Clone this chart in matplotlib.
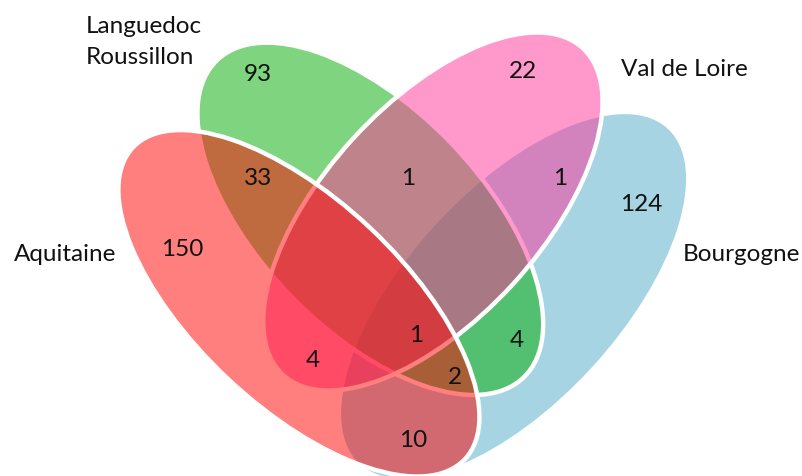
import matplotlib
matplotlib.use("Agg")
import matplotlib.pyplot as plt
from matplotlib.patches import Ellipse

# ---- data ----
set_keys = ["B", "L", "V", "A"]          # drawing order (bottom -> top)
set_names = ["Bourgogne", "Languedoc\nRoussillon", "Val de Loire", "Aquitaine"]
region_keys = ["A", "L", "V", "B", "AL", "LV", "VB", "AV", "LB", "AB", "ALB", "ALVB", "ALV", "AVB", "LVB"]
region_counts = [150, 93, 22, 124, 33, 1, 1, 4, 4, 10, 2, 1, 0, 0, 0]

# ---- layout / style ----
plt.rcParams["font.family"] = ["Lato", "DejaVu Sans"]
ellipse_geom = {  # centre, semi-major, semi-minor, angle (pixel space, y down)
    "B": ((513.6, 297.2), 229.8, 108.0, -47.4),
    "L": ((370.3, 219.8), 220.6, 110.7, 45.9),
    "V": ((432.9, 212.5), 221.7, 108.1, -47.5),
    "A": ((298.9, 304.3), 227.7, 103.7, 43.2),
}
fill = {
    "B": (166/255, 212/255, 226/255, 1.0),
    "L": (0.0, 173/255, 0.0, 0.5),
    "V": (1.0, 0.2, 0.6, 0.5),
    "A": (1.0, 0.0, 0.0, 0.5),
}
name_pos = {  # (x, baseline y, ha)
    "B": (741, 261, "center"),
    "L": (86, 33, "left"),
    "V": (684, 76, "center"),
    "A": (65, 261, "center"),
}
count_pos = {
    "A": (182, 256), "L": (258, 81), "V": (523, 78), "B": (641, 211),
    "AL": (258, 185), "LV": (408, 185), "VB": (560, 185), "AV": (313, 367),
    "LB": (517, 347), "AB": (413, 447), "ALB": (455, 384), "ALVB": (416, 342),
}

fig = plt.figure(figsize=(8.03, 4.77), dpi=100)
ax = fig.add_axes([0, 0, 1, 1])
ax.set_xlim(0, 803)
ax.set_ylim(477, 0)
ax.axis("off")

for k in set_keys:
    c, a, b, ang = ellipse_geom[k]
    ax.add_patch(Ellipse(c, 2 * a, 2 * b, angle=ang, facecolor=fill[k],
                         edgecolor="white", linewidth=3.2))

for k, name in zip(set_keys, set_names):
    x, y, ha = name_pos[k]
    lines = name.split("\n")
    for i, line in enumerate(lines):
        ax.text(x, y + i * 31, line, fontsize=17.5, ha=ha, va="baseline", color="#111111")

for k, n in zip(region_keys, region_counts):
    if n == 0:
        continue
    x, y = count_pos[k]
    ax.text(x, y, str(n), fontsize=17.5, ha="center", va="baseline", color="#111111")

fig.savefig("out.png", dpi=100)
